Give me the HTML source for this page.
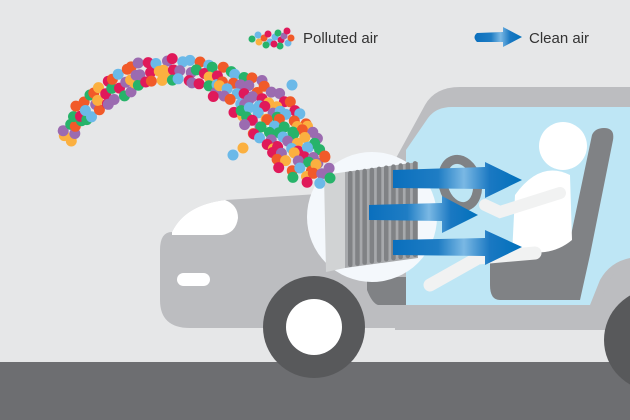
<!DOCTYPE html>
<html><head><meta charset="utf-8"><style>
html,body{margin:0;padding:0;background:#e6e7e8;}
svg{display:block}
text{font-family:"Liberation Sans",sans-serif;fill:#333;font-size:15px}
</style></head><body>
<svg id="s" width="630" height="420" viewBox="0 0 630 420" xmlns="http://www.w3.org/2000/svg">
<defs>
<linearGradient id="ag" x1="0" x2="1" y1="0" y2="0">
<stop offset="0" stop-color="#0a6fbd"/><stop offset="0.35" stop-color="#1f7dc4"/><stop offset="0.55" stop-color="#7ab8e4"/><stop offset="0.75" stop-color="#1a78c2"/><stop offset="1" stop-color="#0071bc"/>
</linearGradient>
</defs>
<rect width="630" height="420" fill="#e6e7e8"/>
<rect y="362" width="630" height="58" fill="#6d6e71"/>
<!-- roof -->
<path d="M395,160 L425,105 Q435,87 460,87 L630,87 L630,330 L395,330 Z" fill="#bcbdc0"/>
<!-- window -->
<path d="M406,305 L406,150 L428,118 Q436,107 452,107 L630,107 L630,258 Q610,262 600,280 L590,305 Z" fill="#bee6f5"/>
<!-- body -->
<path d="M160,250 Q160,232 172,232 Q185,205 225,200 L380,190 L380,305 L600,305 Q610,268 630,262 L630,328 L190,328 Q160,328 160,300 Z" fill="#bcbdc0"/>
<path d="M172,232 Q185,205 225,200 Q238,205 238,218 Q236,233 222,235 L172,235 Z" fill="#fff"/>
<rect x="177" y="273" width="33" height="13" rx="6.5" fill="#fff"/>
<path d="M367,277 L406,277 L406,305 L378,305 Q372,303 367,290 Z" fill="#808285"/>
<!-- front wheel -->
<circle cx="314" cy="327" r="51" fill="#58595b"/>
<circle cx="314" cy="327" r="28" fill="#fff"/>
<circle cx="655" cy="340" r="51" fill="#58595b"/>
<!-- seat -->
<path d="M604,128 Q615,128 613,140 L590,255 L580,300 L500,300 Q490,300 490,285 L490,250 L570,240 L592,135 Q595,128 604,128 Z" fill="#808285"/>
<!-- steering wheel -->
<ellipse cx="460" cy="183" rx="17" ry="24" transform="rotate(-15 460 183)" fill="none" stroke="#808285" stroke-width="9"/>
<!-- person -->
<circle cx="563" cy="146" r="24" fill="#fff"/>
<path d="M515,195 Q540,160 570,175 L572,240 Q560,250 545,252 L512,255 Z" fill="#fff"/>
<path d="M430,285 L478,258 L535,253" fill="none" stroke="#f1f2f2" stroke-width="13" stroke-linecap="round"/>
<path d="M485,205 L500,212 L560,193" fill="none" stroke="#f1f2f2" stroke-width="12" stroke-linecap="round"/>
<!-- magnifier -->
<circle cx="372" cy="217" r="65" fill="#f4f8fc"/>
<!-- filter -->
<path d="M324,175 L345,172 L345,268 L326,272 Z" fill="#d1d3d4"/>
<path d="M345,172 L418,162 L418,258 L345,268 Z" fill="#a7a9ac"/>
<g id="ribs" fill="#808285"></g>
<!-- arrows -->
<path d="M393,170 L485,167 L485,162 L522,180 L485,198 L485,189 L393,188 Z" fill="url(#ag)"/>
<path d="M369,205 L442,203 L442,196 L478,215 L442,233 L442,221 L369,220 Z" fill="url(#ag)"/>
<path d="M393,240 L485,238 L485,230 L522,247 L485,265 L485,256 L393,255 Z" fill="url(#ag)"/>
<g id="dots"></g>
<g id="ldots"></g>
<text x="303" y="43">Polluted air</text>
<path d="M477,33 L503,32 L503,27 L522,37 L503,47 L503,42 L477,42 Q472,37 477,33 Z" fill="url(#ag)"/>
<text x="529" y="43">Clean air</text>
</svg>
<script>
var ns="http://www.w3.org/2000/svg";
var cols=["#e0195a","#f15a29","#fbb040","#27b36a","#6bb9e8","#9b6bb0"];
var sd=12345;function rnd(){sd|=0;sd=sd+0x6D2B79F5|0;var t=Math.imul(sd^sd>>>15,1|sd);t=t+Math.imul(t^t>>>7,61|t)^t;return((t^t>>>14)>>>0)/4294967296;}
function dot(g,x,y,rad){var c=document.createElementNS(ns,"circle");c.setAttribute("cx",x.toFixed(1));c.setAttribute("cy",y.toFixed(1));c.setAttribute("r",rad);c.setAttribute("fill",cols[Math.floor(rnd()*6)]);g.appendChild(c);}
var g=document.getElementById("dots");
// centerline with band width
var pts=[[68,140,14],[82,115,18],[105,95,20],[135,78,22],[165,70,22],[195,75,24],[222,84,28],[250,100,40],[270,120,50],[287,140,52],[300,158,44],[315,172,30],[325,178,16]];
for(var i=0;i<pts.length-1;i++){var a=pts[i],b=pts[i+1];var dx=b[0]-a[0],dy=b[1]-a[1];var L=Math.sqrt(dx*dx+dy*dy);var nx=-dy/L,ny=dx/L;
 for(var s=0;s<L;s+=8){var t=s/L;var x=a[0]+dx*t,y=a[1]+dy*t,w=a[2]+(b[2]-a[2])*t;
  for(var o=-w/2;o<=w/2;o+=9){dot(g,x+nx*o+(rnd()-0.5)*5,y+ny*o+(rnd()-0.5)*5,5.5);}}}
dot(g,292,85,5.5);dot(g,233,155,5.5);dot(g,243,148,5.5);dot(g,330,178,5.5);
var l=document.getElementById("ldots");
var lp=[[252,39],[258,35],[259,42],[264,38],[268,34],[270,42],[275,37],[278,33],[281,40],[284,36],[287,31],[288,43],[291,38],[280,46],[266,45],[274,44]];
for(var k=0;k<lp.length;k++)dot(l,lp[k][0],lp[k][1],3.5);
var rb=document.getElementById("ribs");
for(var i=0;i<10;i++){var x=348+i*7.2;var ty=171-i*1.1;var e=document.createElementNS(ns,"rect");e.setAttribute("x",x);e.setAttribute("y",ty);e.setAttribute("width",4.5);e.setAttribute("height",96);e.setAttribute("rx",2.2);e.setAttribute("fill","#808285");rb.appendChild(e);}
</script>
</body></html>
